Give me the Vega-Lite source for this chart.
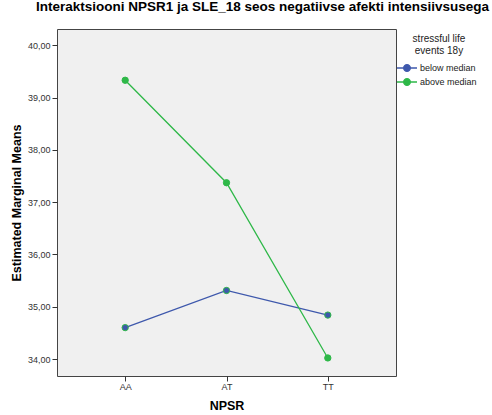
{
  "$schema": "https://vega.github.io/schema/vega-lite/v6.json",
  "width": 339,
  "height": 347,
  "autosize": {"type": "none"},
  "padding": {"left": 57, "top": 29, "right": 96, "bottom": 39},
  "background": "white",
  "config": {
    "view": {"fill": "#f0f0f0", "stroke": "#444444", "strokeWidth": 1},
    "font": "Liberation Sans"
  },
  "title": {
    "text": "Interaktsiooni NPSR1 ja SLE_18 seos negatiivse afekti intensiivsusega",
    "fontSize": 13.5,
    "fontWeight": "bold",
    "color": "#000000",
    "anchor": "middle",
    "dx": 36,
    "baseline": "alphabetic",
    "offset": 5
  },
  "data": {
    "values": [
      {"NPSR": "AA", "sle": "below median", "mean": 34.6},
      {"NPSR": "AT", "sle": "below median", "mean": 35.31},
      {"NPSR": "TT", "sle": "below median", "mean": 34.84},
      {"NPSR": "AA", "sle": "above median", "mean": 39.33},
      {"NPSR": "AT", "sle": "above median", "mean": 37.37},
      {"NPSR": "TT", "sle": "above median", "mean": 34.02}
    ]
  },
  "encoding": {
    "x": {
      "field": "NPSR",
      "type": "nominal",
      "sort": ["AA", "AT", "TT"],
      "scale": {"type": "point", "padding": 0.673},
      "axis": {
        "title": "NPSR",
        "labelAngle": 0,
        "labelFontSize": 9,
        "labelColor": "#333333",
        "tickColor": "#333333",
        "tickSize": 5,
        "labelPadding": 1,
        "domain": false,
        "grid": false,
        "titleFontSize": 12.5,
        "titleFontWeight": "bold",
        "titleColor": "#000000",
        "titlePadding": 8
      }
    },
    "y": {
      "field": "mean",
      "type": "quantitative",
      "scale": {"domain": [33.675, 40.31], "nice": false, "zero": false},
      "axis": {
        "title": "Estimated Marginal Means",
        "values": [34, 35, 36, 37, 38, 39, 40],
        "labelExpr": "replace(format(datum.value, '.2f'), '.', ',')",
        "labelFontSize": 9,
        "labelColor": "#333333",
        "tickColor": "#333333",
        "tickSize": 5,
        "labelPadding": 2,
        "domain": false,
        "grid": false,
        "titleFontSize": 12.5,
        "titleFontWeight": "bold",
        "titleColor": "#000000",
        "titlePadding": 4
      }
    },
    "color": {
      "field": "sle",
      "type": "nominal",
      "scale": {"domain": ["below median", "above median"], "range": ["#3E58AC", "#2EB848"]},
      "legend": {
        "title": ["stressful life", "events 18y"],
        "orient": "none",
        "legendX": 344,
        "legendY": 5,
        "padding": 0,
        "titleFontSize": 10,
        "titleFontWeight": "normal",
        "titleColor": "#222222",
        "titleAnchor": "middle",
        "titlePadding": 6,
        "labelFontSize": 9,
        "labelColor": "#222222",
        "labelOffset": 7,
        "rowPadding": 0,
        "symbolType": "M-2,0H2M-0.65,0A0.65,0.65,0,1,1,0.65,0A0.65,0.65,0,1,1,-0.65,0Z",
        "symbolSize": 100,
        "symbolStrokeWidth": 1.5,
        "encode": {
          "symbols": {
            "update": {
              "fill": {"scale": "color", "field": "value"},
              "stroke": {"scale": "color", "field": "value"},
              "opacity": {"value": 1}
            }
          }
        }
      }
    }
  },
  "layer": [
    {"mark": {"type": "line", "strokeWidth": 1.3}},
    {"mark": {"type": "point", "filled": true, "size": 40, "opacity": 1, "stroke": "#2EB848", "strokeWidth": 1}}
  ]
}
